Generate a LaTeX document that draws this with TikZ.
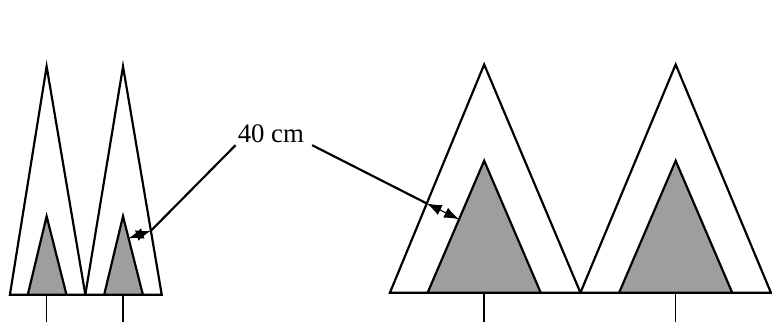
\documentclass[tikz,border=0pt]{standalone}
\usepackage{fontspec}
\setmainfont{Liberation Serif}
\usetikzlibrary{arrows.meta,calc}

\tikzset{
  crown/.style={draw, line width=2.2pt, line join=miter, fill=white},
  core/.style={draw, line width=2.2pt, line join=miter, fill=black!38},
  trunk/.style={line width=1.6pt},
  leader/.style={line width=2.2pt},
  gapline/.style={line width=1.2pt, {Latex[length=15pt,width=11pt]}-{Latex[length=15pt,width=11pt]}},
}

\begin{document}
\begin{tikzpicture}[x=1pt, y=-1pt, line cap=butt]

  % ════ left pair (narrow trees) ════
  \coordinate (A1) at (47,67);   \coordinate (A1l) at (10,297);  \coordinate (A1r) at (86,297);
  \coordinate (a1) at (47,218);  \coordinate (a1l) at (28,297);  \coordinate (a1r) at (67,297);
  \coordinate (A2) at (124,67);  \coordinate (A2l) at (86,297);  \coordinate (A2r) at (163,297);
  \coordinate (a2) at (124,218); \coordinate (a2l) at (105,297); \coordinate (a2r) at (144,297);

  % ════ right pair (wide trees) ════
  \coordinate (B1) at (488,65);  \coordinate (B1l) at (393,295); \coordinate (B1r) at (585,295);
  \coordinate (b1) at (488,162); \coordinate (b1l) at (431,295); \coordinate (b1r) at (545,295);
  \coordinate (B2) at (681,65);  \coordinate (B2l) at (585,295); \coordinate (B2r) at (777,295);
  \coordinate (b2) at (681,162); \coordinate (b2l) at (624,295); \coordinate (b2r) at (738,295);

  % outer crowns
  \foreach \t in {A1,A2,B1,B2}
    \draw[crown] (\t) -- (\t l) -- (\t r) -- cycle;
  % shaded cores
  \foreach \t in {a1,a2,b1,b2}
    \draw[core] (\t) -- (\t l) -- (\t r) -- cycle;

  % ground lines
  \draw[line width=2.2pt] (A1l) -- (A2r);
  \draw[line width=2.2pt] (B1l) -- (772,295);

  % trunks
  \draw[trunk] (47,297) -- (47,325);
  \draw[trunk] (124,297) -- (124,325);
  \draw[trunk] (488,295) -- (488,325);
  \draw[trunk] (681,295) -- (681,325);

  % ════ 40 cm gap ════
  \node[inner sep=2pt, font=\fontsize{27}{32}\selectfont] (lbl) at (273,135) {40 cm};

  \coordinate (gapL) at ($(A2)!0.72!(A2r)$);
  \coordinate (gapl) at ($(a2)!0.28!(a2r)$);
  \coordinate (gapR) at ($(B1)!0.609!(B1l)$);
  \coordinate (gapr) at ($(b1)!0.444!(b1l)$);

  \draw[leader] (lbl.south west) -- (gapL);
  \draw[gapline] (gapL) -- (gapl);
  \draw[leader] ([xshift=6pt]lbl.south east) -- (gapR);
  \draw[gapline] (gapR) -- (gapr);

  \path[use as bounding box] (0,0) rectangle (772,325);
\end{tikzpicture}
\end{document}
